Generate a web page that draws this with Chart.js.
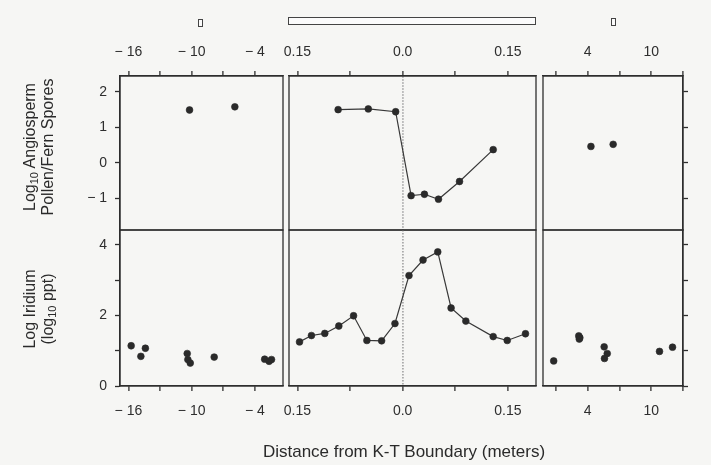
<!DOCTYPE html>
<html><head><meta charset="utf-8">
<script src="https://cdn.jsdelivr.net/npm/chart.js@4.4.1/dist/chart.umd.min.js"></script>
<style>
html,body{margin:0;padding:0;background:#f6f6f4;}
#wrap{position:relative;width:711px;height:465px;overflow:hidden;font-family:"Liberation Sans",Arial,Helvetica,sans-serif;color:#2a2a2a;background:#f6f6f4;}
canvas{position:absolute;left:0;top:0;}
.strip{position:absolute;box-sizing:border-box;border:1.3px solid #444;background:#fbfbfb;}
.ytitle{position:absolute;font-size:16px;line-height:18px;text-align:center;white-space:nowrap;transform:translate(-50%,-50%) rotate(-90deg);}
.ytitle sub{font-size:11px;vertical-align:-3px;line-height:0;}
#xtitle{position:absolute;left:404px;top:452px;transform:translate(-50%,-50%);font-size:17px;white-space:nowrap;}
</style></head>
<body><div id="wrap">
<div class="strip" style="left:198px;top:19px;width:5px;height:8px;"></div>
<div class="strip" style="left:288px;top:17px;width:248px;height:8px;"></div>
<div class="strip" style="left:611px;top:18px;width:5px;height:8px;"></div>
<canvas id="pl" width="711" height="465"></canvas>
<canvas id="pm" width="711" height="465"></canvas>
<canvas id="pr" width="711" height="465"></canvas>
<canvas id="il" width="711" height="465"></canvas>
<canvas id="im" width="711" height="465"></canvas>
<canvas id="ir" width="711" height="465"></canvas>
<div class="ytitle" style="left:39px;top:147px;">Log<sub>10</sub> Angiosperm<br>Pollen/Fern Spores</div>
<div class="ytitle" style="left:39px;top:309px;">Log Iridium<br>(log<sub>10</sub> ppt)</div>
<div id="xtitle">Distance from K-T Boundary (meters)</div>
</div>
<script>
// ---- data ----
const pollenLeftX = [-10.2, -5.9];
const pollenLeftY = [1.49, 1.58];
const pollenMidX = [-0.092, -0.049, -0.010, 0.012, 0.031, 0.051, 0.081, 0.129];
const pollenMidY = [1.50, 1.52, 1.44, -0.93, -0.89, -1.03, -0.53, 0.37];
const pollenRightX = [4.3, 6.4];
const pollenRightY = [0.46, 0.52];

const iridiumLeftX = [-15.74, -14.82, -14.39, -10.42, -10.36, -10.13, -7.86, -3.07, -2.65, -2.42];
const iridiumLeftY = [1.14, 0.84, 1.07, 0.92, 0.75, 0.65, 0.82, 0.76, 0.70, 0.75];
const iridiumMidX = [-0.147, -0.130, -0.111, -0.091, -0.070, -0.051, -0.030, -0.011, 0.009, 0.029, 0.050, 0.069, 0.090, 0.129, 0.149, 0.175];
const iridiumMidY = [1.25, 1.43, 1.49, 1.70, 1.99, 1.29, 1.28, 1.77, 3.13, 3.57, 3.80, 2.21, 1.84, 1.40, 1.29, 1.48];
const iridiumRightX = [0.78, 3.15, 3.25, 3.2, 5.55, 5.84, 5.58, 10.78, 12.01];
const iridiumRightY = [0.71, 1.42, 1.37, 1.33, 1.11, 0.92, 0.78, 0.98, 1.10];

// ---- ticks ----
const leftXTicks = [-16, -13, -10, -7, -4];
const leftXLabels = ['\u2212 16', '', '\u2212 10', '', '\u2212 4'];
const midXTicks = [-0.15, -0.075, 0, 0.075, 0.15];
const midXLabels = ['0.15', '', '0.0', '', '0.15'];
const rightXTicks = [1, 4, 7, 10, 13];
const rightXLabels = ['', '4', '', '10', ''];
const pollenYTicks = [-1, 0, 1, 2];
const pollenYLabels = ['\u2212 1', '0', '1', '2'];
const iridiumYTicks = [0, 1, 2, 3, 4];
const iridiumYLabels = ['0', '', '2', '', '4'];

// ---- layout ----
const W = 711, H = 465;
const cols = {left: [120, 283], mid: [289, 536], right: [543, 683]};
const rows = {top: [76, 230], bottom: [230, 386]};
const xRanges = {left: [-16.8, -1.33], mid: [-0.162, 0.19], right: [-0.23, 13]};
const yRanges = {top: [-1.9, 2.45], bottom: [0, 4.42]};
const AX = 40, AY = 40, AYR = 8;
const ink = '#2e2e2e';
const tickFont = {family: '"Liberation Sans", Arial, Helvetica, sans-serif', size: 14};

const frame = {
  id: 'frame',
  beforeDatasetsDraw(c) {
    const a = c.chartArea, ctx = c.ctx;
    ctx.save();
    ctx.strokeStyle = ink; ctx.lineWidth = 1.3;
    ctx.strokeRect(a.left, a.top, a.right - a.left, a.bottom - a.top);
    ctx.restore();
  }
};

function pts(xs, ys) { return xs.map((v, i) => ({x: v, y: ys[i]})); }

function panel(id, col, row, xs, ys, line, xTicks, xLabels, yTicks, yLabels) {
  const [l, r] = cols[col], [t, b] = rows[row];
  const xTop = row === 'top';
  const yMode = col === 'left' ? 'left' : (col === 'right' ? 'right' : 'none');
  const zero = col === 'mid';
  const pad = {
    left: yMode === 'left' ? l - AY : l,
    right: yMode === 'right' ? W - r - AYR : W - r,
    top: xTop ? t - AX : t,
    bottom: xTop ? H - b : H - b - AX
  };
  const yScale = {
    type: 'linear', min: yRanges[row][0], max: yRanges[row][1],
    afterBuildTicks: s => { s.ticks = yTicks.map(v => ({value: v})); },
    grid: {drawOnChartArea: false, drawTicks: true, tickLength: 5, tickColor: ink, tickWidth: 1.3},
    border: {display: true, color: ink, width: 1.3}
  };
  if (yMode === 'left') {
    yScale.position = 'left';
    yScale.afterFit = s => { s.width = AY; };
    yScale.ticks = {font: tickFont, color: ink, padding: 8, autoSkip: false, callback: (v, i) => yLabels[i]};
  } else if (yMode === 'right') {
    yScale.position = 'right';
    yScale.afterFit = s => { s.width = AYR; };
    yScale.ticks = {display: false};
  } else {
    yScale.display = false;
  }
  const xScale = {
    type: 'linear', position: xTop ? 'top' : 'bottom',
    min: xRanges[col][0], max: xRanges[col][1],
    afterBuildTicks: s => { s.ticks = xTicks.map(v => ({value: v})); },
    afterFit: s => { s.height = AX; },
    ticks: {font: tickFont, color: ink, padding: xTop ? 10 : 11.5, autoSkip: false, maxRotation: 0, minRotation: 0,
      callback: (v, i) => xLabels[i]},
    grid: {
      drawOnChartArea: zero, drawTicks: true, tickLength: 5, tickColor: ink, tickWidth: 1.3,
      lineWidth: 1.8,
      color: c => (zero && c.tick && c.tick.value === 0) ? '#aaaaaa' : 'rgba(0,0,0,0)'
    },
    border: {display: true, color: ink, width: 1.3, dash: [1.5, 1.5]}
  };
  return new Chart(document.getElementById(id), {
    type: 'scatter',
    data: {datasets: [{
      data: pts(xs, ys), showLine: line,
      borderColor: '#383838', borderWidth: 1.2,
      pointRadius: 3.4, pointBackgroundColor: '#2a2a2a', pointBorderColor: '#2a2a2a', pointBorderWidth: 0.6,
      clip: false
    }]},
    options: {
      responsive: false, animation: false, devicePixelRatio: 1,
      layout: {padding: pad, autoPadding: false},
      plugins: {legend: {display: false}, tooltip: {enabled: false}},
      events: [],
      scales: {x: xScale, y: yScale}
    },
    plugins: [frame]
  });
}

panel('pl', 'left', 'top', pollenLeftX, pollenLeftY, false, leftXTicks, leftXLabels, pollenYTicks, pollenYLabels);
panel('pm', 'mid', 'top', pollenMidX, pollenMidY, true, midXTicks, midXLabels, pollenYTicks, pollenYLabels);
panel('pr', 'right', 'top', pollenRightX, pollenRightY, false, rightXTicks, rightXLabels, pollenYTicks, pollenYLabels);
panel('il', 'left', 'bottom', iridiumLeftX, iridiumLeftY, false, leftXTicks, leftXLabels, iridiumYTicks, iridiumYLabels);
panel('im', 'mid', 'bottom', iridiumMidX, iridiumMidY, true, midXTicks, midXLabels, iridiumYTicks, iridiumYLabels);
panel('ir', 'right', 'bottom', iridiumRightX, iridiumRightY, false, rightXTicks, rightXLabels, iridiumYTicks, iridiumYLabels);
</script>
</body></html>
